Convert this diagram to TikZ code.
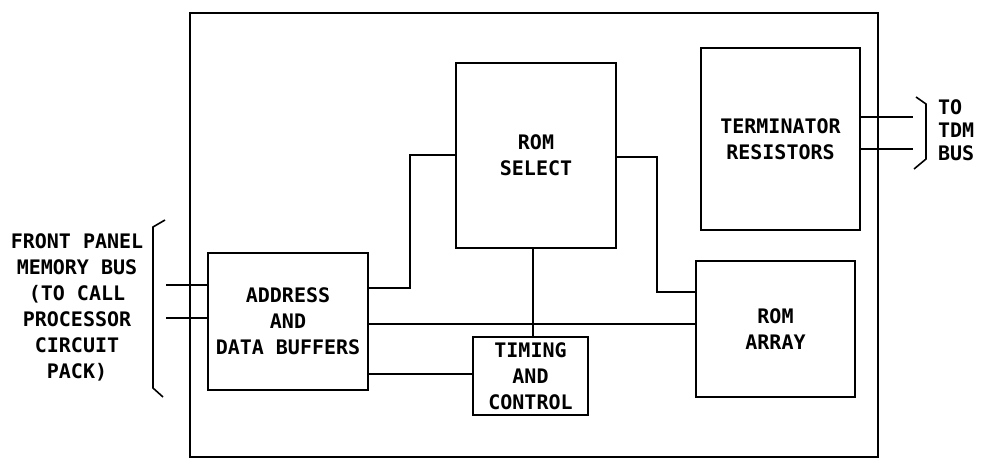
\documentclass[tikz,border=0pt]{standalone}
\usepackage{fontspec}
\newfontfamily\plotfont{DejaVu Sans Mono}
\usepackage{tikz}

\begin{document}
\begin{tikzpicture}
 [x=1pt,y=-1pt,line width=1.6pt,
  block/.style={draw,rectangle,align=center,font=\plotfont\bfseries\fontsize{20}{26}\selectfont},
  side text/.style={align=center,font=\plotfont\bfseries\fontsize{20}{26}\selectfont}]

\useasboundingbox (0,0) rectangle (981,465);

% circuit pack outline
\draw (190,13) rectangle (878,457);

\node[block, minimum width=160pt, minimum height=137pt] (addr) at (288,321.5) {ADDRESS\\AND\\DATA BUFFERS};
  \node[block, minimum width=160pt, minimum height=185pt] (romsel) at (536,155.5) {ROM\\SELECT};
 \node[block, minimum width=115pt, minimum height=78pt] (timing) at (530.5,376) {TIMING\\AND\\CONTROL};
 \node[block, minimum width=159pt, minimum height=136pt] (romarr) at (775.5,329) {ROM\\ARRAY};
  \node[block, minimum width=159pt, minimum height=182pt] (term) at (780.5,139) {TERMINATOR\\RESISTORS};

  \node[side text] (fp) at (77,307) {FRONT PANEL\\MEMORY BUS\\(TO CALL\\PROCESSOR\\CIRCUIT\\PACK)};
  \node[side text, align=left, anchor=west, font=\plotfont\bfseries\fontsize{20}{23}\selectfont] (tdm) at (934,130.5) {TO\\TDM\\BUS};

\coordinate (fp1) at (166,285);
\coordinate (fp2) at (166,318);
\coordinate (tdm1) at (913,117);
\coordinate (tdm2) at (913,149);

\draw (fp1) -- (fp1 -| addr.west);
\draw (fp2) -- (fp2 -| addr.west);
\draw (addr.east |- 0,288) -- (410,288) |- (romsel.west |- 0,155);
\draw (romsel.east |- 0,157) -- (657,157) |- (romarr.west |- 0,292);
\draw (addr.east |- 0,324) -- (romarr.west |- 0,324);
\draw (addr.east |- 0,374) -- (timing.west |- 0,374);
\draw (romsel.south -| 533,0) -- (timing.north -| 533,0);
\draw (term.east |- tdm1) -- (tdm1);
\draw (term.east |- tdm2) -- (tdm2);

% bus brackets
\draw (165,220) -- (153,227) -- (153,388) -- (163,397);
\draw (916,97) -- (926,104) -- (926,159) -- (914,169);

\end{tikzpicture}
\end{document}
